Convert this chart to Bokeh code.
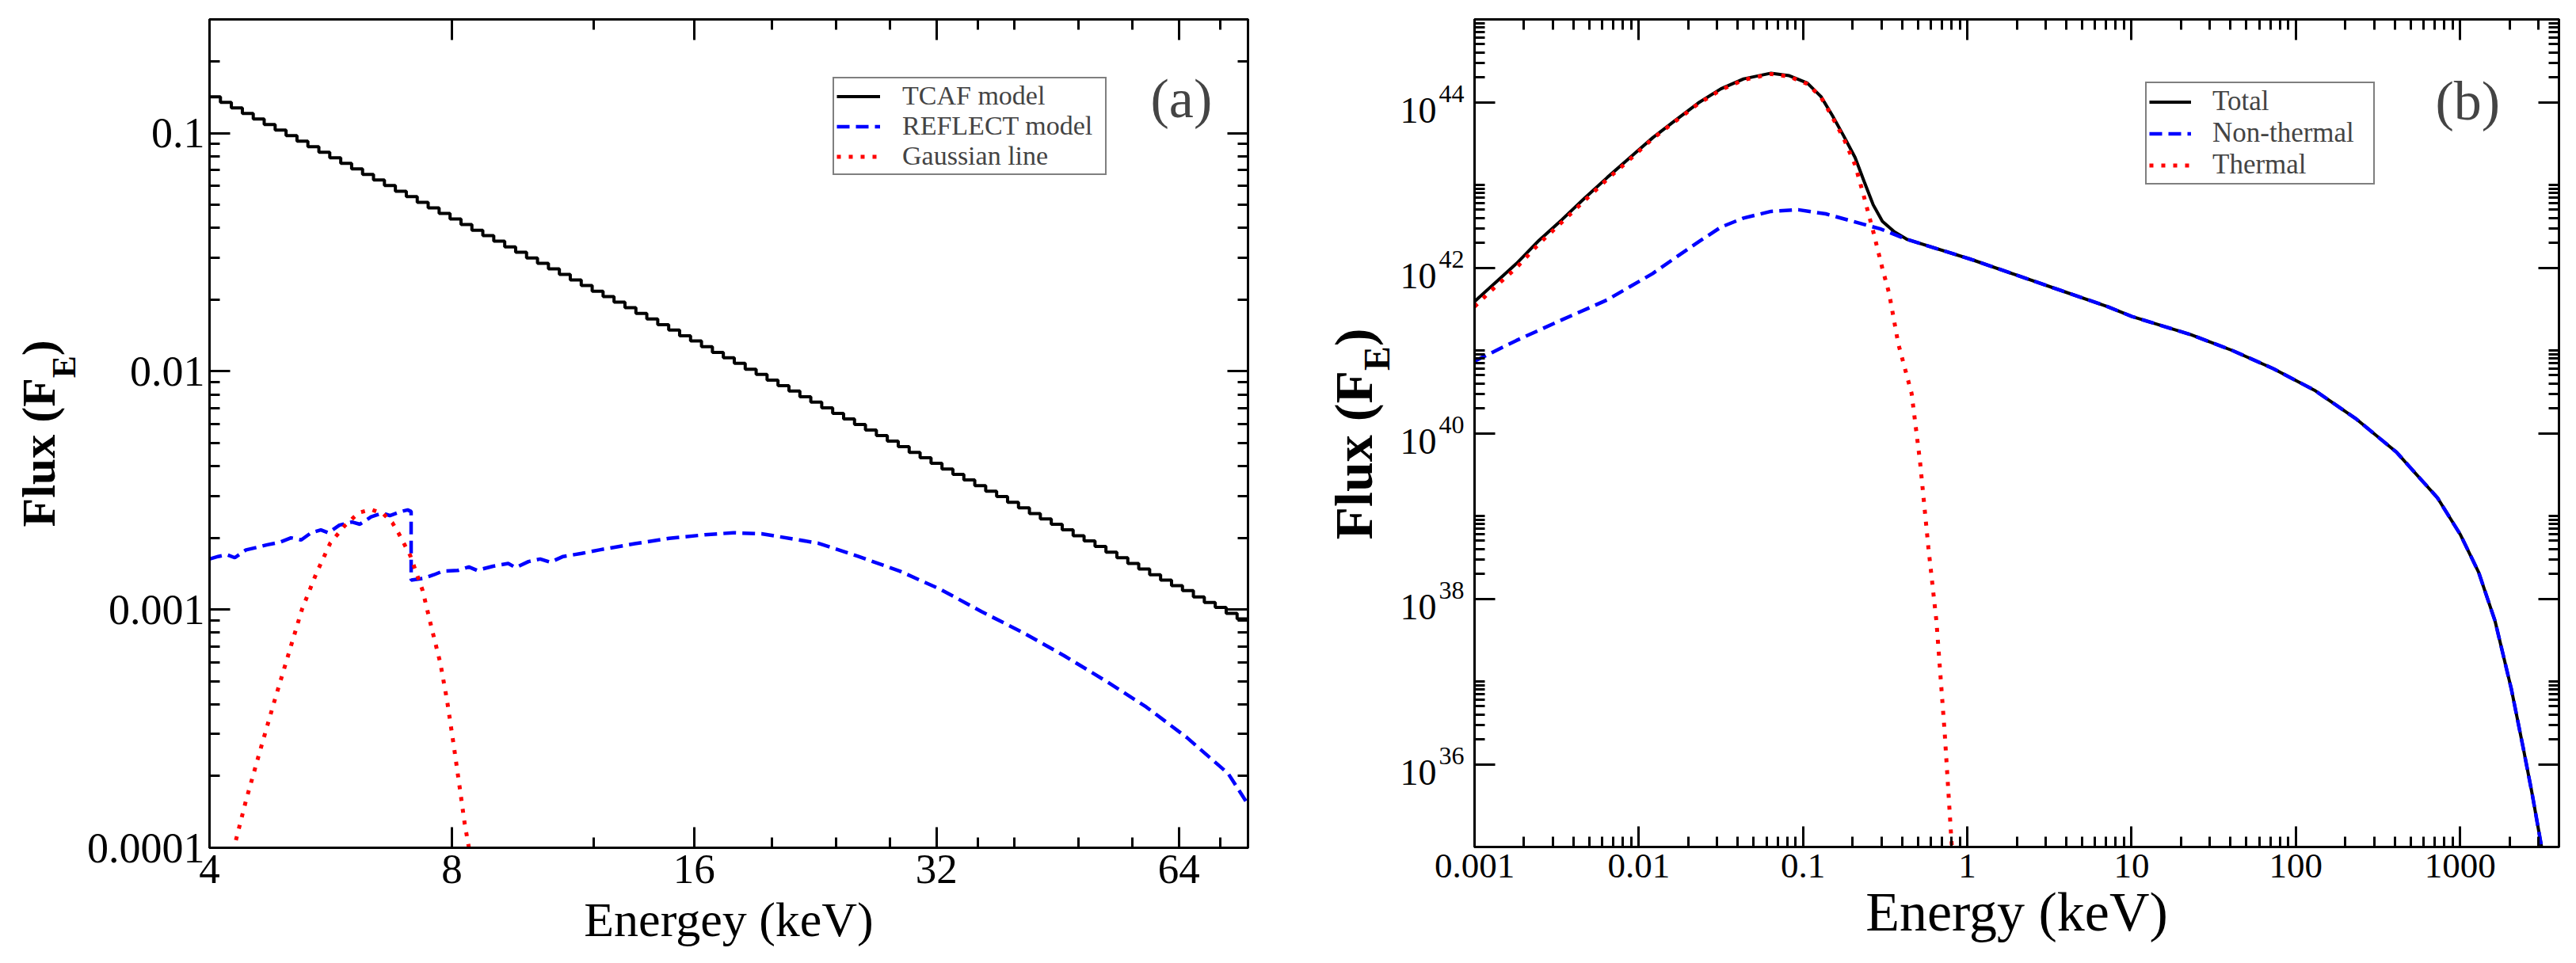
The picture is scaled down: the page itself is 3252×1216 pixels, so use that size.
import math

from bokeh.core.properties import value
from bokeh.embed import file_html
from bokeh.layouts import row
from bokeh.models import (CustomJSTickFormatter, FixedTicker, Label, Legend,
                          LegendItem, LogAxis)
from bokeh.plotting import figure
from bokeh.resources import INLINE

FONT = "Liberation Serif"

# ---------------- panel (a): TCAF + REFLECT + Gaussian ----------------
# channel edges (keV) of the binned TCAF spectrum and flux in each channel
tcaf_edges = [
    4.000, 4.127, 4.258, 4.394, 4.533, 4.677, 4.826, 4.979, 5.137, 5.300,
    5.469, 5.642, 5.822, 6.006, 6.197, 6.394, 6.597, 6.807, 7.023, 7.246,
    7.476, 7.714, 7.959, 8.212, 8.472, 8.741, 9.019, 9.306, 9.601, 9.906,
    10.221, 10.546, 10.881, 11.226, 11.583, 11.951, 12.330, 12.722, 13.126, 13.543,
    13.973, 14.417, 14.875, 15.347, 15.835, 16.338, 16.857, 17.392, 17.945, 18.515,
    19.103, 19.709, 20.335, 20.981, 21.648, 22.335, 23.045, 23.777, 24.532, 25.311,
    26.115, 26.944, 27.800, 28.683, 29.594, 30.534, 31.504, 32.505, 33.537, 34.602,
    35.701, 36.835, 38.005, 39.212, 40.457, 41.742, 43.068, 44.436, 45.847, 47.303,
    48.806, 50.356, 51.955, 53.605, 55.308, 57.064, 58.877, 60.747, 62.676, 64.667,
    66.721, 68.840, 71.026, 73.282, 75.610, 78.011,
]
tcaf_flux = [
    0.1420, 0.1346, 0.1275, 0.1209, 0.1146, 0.1086, 0.1029, 0.0975, 0.0924, 0.0876,
    0.0830, 0.0787, 0.0746, 0.0707, 0.0670, 0.0635, 0.0602, 0.0570, 0.0541, 0.0512,
    0.0485, 0.0460, 0.0436, 0.0413, 0.0391, 0.0371, 0.0352, 0.0333, 0.0316, 0.0299,
    0.0284, 0.0269, 0.0255, 0.0242, 0.0229, 0.0217, 0.0206, 0.0195, 0.0185, 0.0175,
    0.0166, 0.0157, 0.0149, 0.0141, 0.0134, 0.0127, 0.0120, 0.0114, 0.0108, 0.0102,
    0.00970, 0.00919, 0.00871, 0.00826, 0.00782, 0.00742, 0.00703, 0.00666, 0.00631, 0.00598,
    0.00567, 0.00537, 0.00509, 0.00483, 0.00457, 0.00434, 0.00411, 0.00389, 0.00369, 0.00350,
    0.00331, 0.00314, 0.00298, 0.00282, 0.00267, 0.00253, 0.00240, 0.00228, 0.00216, 0.00204,
    0.00194, 0.00184, 0.00174, 0.00165, 0.00156, 0.00148, 0.00140, 0.00133, 0.00126, 0.00120,
    0.00113, 0.00107, 0.00102, 0.000964, 0.000914,
]

reflect_energy = [
    4.00, 4.10, 4.20, 4.30, 4.44, 4.60, 4.72, 4.90, 5.05, 5.20,
    5.35, 5.50, 5.62, 5.80, 6.01, 6.15, 6.35, 6.55, 6.70, 6.92,
    7.05, 7.12, 7.121, 7.36, 7.60, 7.80, 8.14, 8.40, 8.60, 9.00,
    9.40, 9.60, 9.96, 10.3, 10.6, 11.0, 11.6, 12.2, 13.5, 14.9,
    16.5, 17.9, 19.4, 22.8, 25.6, 28.8, 32.3, 36.4, 41.0, 46.1,
    52.0, 58.3, 65.5, 73.7, 78.0,
]
reflect_flux = [
    0.00163, 0.00167, 0.00170, 0.00165, 0.00178, 0.00183, 0.00187, 0.00192, 0.00200, 0.00196,
    0.00210, 0.00216, 0.00210, 0.00226, 0.00233, 0.00228, 0.00245, 0.00254, 0.00248, 0.00258,
    0.00262, 0.00258, 0.00133, 0.00135, 0.00140, 0.00145, 0.00146, 0.00151, 0.00146, 0.00152,
    0.00156, 0.00150, 0.00159, 0.00163, 0.00158, 0.00167, 0.00172, 0.00178, 0.00189, 0.00199,
    0.00206, 0.00210, 0.00208, 0.00190, 0.00167, 0.00145, 0.00122, 0.00098, 0.00080, 0.00064,
    0.00050, 0.00039, 0.00029, 0.000205, 0.000152,
]

gauss_energy = [
    4.25, 4.29, 4.44, 4.62, 4.81, 5.01, 5.21, 5.43, 5.65, 5.89,
    6.13, 6.35, 6.58, 6.75, 6.87, 7.10, 7.36, 7.54, 7.74, 7.89,
    8.05, 8.18, 8.30, 8.40, 8.45,
]
gauss_flux = [
    8.6e-5, 1.0e-4, 1.58e-4, 2.54e-4, 4.07e-4, 6.44e-4, 1.0e-3, 1.42e-3, 1.90e-3, 2.25e-3,
    2.55e-3, 2.63e-3, 2.52e-3, 2.31e-3, 2.09e-3, 1.69e-3, 1.20e-3, 8.52e-4, 5.97e-4, 4.17e-4,
    2.64e-4, 1.80e-4, 1.26e-4, 1.0e-4, 8.6e-5,
]

a_xticks = [4, 8, 16, 32, 64]
a_xlabels = ["4", "8", "16", "32", "64"]
a_xminor = [12, 20, 24, 28, 36, 40, 48, 56, 72]
a_yticks = [1e-4, 1e-3, 1e-2, 1e-1]
a_ylabels = ["0.0001", "0.001", "0.01", "0.1"]

# ---------------- panel (b): Total / Non-thermal / Thermal ----------------
total_energy = [
    0.001, 0.001306, 0.001799, 0.002472, 0.003404, 0.004677, 0.006427, 0.008831, 0.01216, 0.01671,
    0.02301, 0.03162, 0.04345, 0.06383, 0.08241, 0.1062, 0.1285, 0.1507, 0.1770, 0.2075,
    0.2355, 0.2673, 0.3041, 0.3565, 0.4315, 1.054, 1.995, 3.767, 7.129, 10.05,
    23.0, 41.0, 72.9, 129.7, 230.7, 410.2, 727.8, 1007, 1297, 1633,
    2051, 2438, 2742, 3141,
]
total_flux = [
    3.89e41, 6.31e41, 1.12e42, 2.14e42, 3.80e42, 6.92e42, 1.23e43, 2.14e43, 3.72e43, 6.03e43,
    9.77e43, 1.45e44, 1.91e44, 2.24e44, 2.09e44, 1.70e44, 1.17e44, 6.92e43, 3.89e43, 2.14e43,
    1.10e43, 5.75e42, 3.63e42, 2.75e42, 2.19e42, 1.26e42, 8.13e41, 5.25e41, 3.39e41, 2.57e41,
    1.55e41, 1.00e41, 6.03e40, 3.31e40, 1.51e40, 5.89e39, 1.66e39, 5.89e38, 2.09e38, 5.37e37,
    8.13e36, 1.48e36, 4.47e35, 9.77e34,
]

nonthermal_energy = [
    0.001, 0.0018, 0.0034, 0.0064, 0.00883, 0.01216, 0.01671, 0.02301, 0.03162, 0.04345,
    0.06383, 0.09354, 0.1374, 0.2009, 0.2944, 0.4315, 1.054, 1.995, 3.767, 7.129,
    10.05, 23.0, 41.0, 72.9, 129.7, 230.7, 410.2, 727.8, 1007, 1297,
    1633, 2051, 2438, 2742, 3141,
]
nonthermal_flux = [
    7.41e40, 1.32e41, 2.34e41, 4.07e41, 5.89e41, 8.51e41, 1.32e42, 2.04e42, 3.09e42, 3.98e42,
    4.79e42, 5.01e42, 4.47e42, 3.63e42, 2.95e42, 2.19e42, 1.26e42, 8.13e41, 5.25e41, 3.39e41,
    2.57e41, 1.55e41, 1.00e41, 6.03e40, 3.31e40, 1.51e40, 5.89e39, 1.66e39, 5.89e38, 2.09e38,
    5.37e37, 8.13e36, 1.48e36, 4.47e35, 9.77e34,
]

thermal_energy = [
    0.001, 0.001306, 0.001799, 0.002472, 0.003404, 0.004677, 0.006427, 0.008831, 0.01216, 0.01671,
    0.02301, 0.03162, 0.04345, 0.06383, 0.08241, 0.1062, 0.1285, 0.1507, 0.1770, 0.2075,
    0.2355, 0.2673, 0.3041, 0.3342, 0.3802, 0.4581, 0.5152, 0.5794, 0.6486, 0.7278,
    0.7998, 0.82,
]
thermal_flux = [
    3.39e41, 5.62e41, 1.00e42, 1.95e42, 3.55e42, 6.46e42, 1.17e43, 2.04e43, 3.63e43, 5.89e43,
    9.55e43, 1.41e44, 1.86e44, 2.19e44, 2.04e44, 1.66e44, 1.15e44, 6.61e43, 3.63e43, 1.74e43,
    7.08e42, 2.75e42, 9.77e41, 4.90e41, 1.20e41, 3.02e40, 4.57e39, 4.17e38, 5.37e37, 2.45e36,
    1.23e35, 6.31e34,
]

b_xticks = [1e-3, 1e-2, 0.1, 1, 10, 100, 1000]
b_xlabels = ["0.001", "0.01", "0.1", "1", "10", "100", "1000"]
b_yticks = [1e36, 1e38, 1e40, 1e42, 1e44]
b_ybase = ["10", "10", "10", "10", "10"]
b_yexp = ["36", "38", "40", "42", "44"]


def decade_minors(first, last, step=1, mults=range(2, 10)):
    return [m * 10.0 ** e for e in range(first, last + 1, step) for m in mults]


def style_axis(ax, ticker, labels=None, size="54px", standoff=8):
    ax.ticker = ticker
    ax.axis_line_width = 3
    ax.axis_line_color = "black"
    ax.major_tick_in = 26
    ax.major_tick_out = 0
    ax.minor_tick_in = 13
    ax.minor_tick_out = 0
    ax.major_tick_line_width = 3
    ax.minor_tick_line_width = 3
    ax.major_label_text_font = FONT
    ax.major_label_text_color = "black"
    ax.major_label_standoff = standoff
    ax.axis_label = None
    if labels is None:
        # tick marks only: no labels on this side
        ax.formatter = CustomJSTickFormatter(code="return ''")
        ax.major_label_text_font_size = "1px"
        ax.major_label_standoff = 0
    else:
        ax.major_label_text_font_size = size
        ax.major_label_overrides = labels


def label_axis(positions, labels, size, standoff):
    # an axis without line or ticks, used only to print one row of labels
    ax = LogAxis(ticker=FixedTicker(ticks=positions, minor_ticks=[]))
    ax.axis_line_color = None
    ax.major_tick_line_color = None
    ax.minor_tick_line_color = None
    ax.major_tick_in = 0
    ax.major_tick_out = 0
    ax.minor_tick_in = 0
    ax.minor_tick_out = 0
    ax.major_label_text_font = FONT
    ax.major_label_text_color = "black"
    ax.major_label_text_font_size = size
    ax.major_label_standoff = standoff
    ax.major_label_overrides = dict(zip(positions, labels))
    return ax


def x_title(ax, text, size, standoff):
    ax.axis_label = text
    ax.axis_label_text_font = FONT
    ax.axis_label_text_font_style = "normal"
    ax.axis_label_text_font_size = size
    ax.axis_label_text_color = "black"
    ax.axis_label_standoff = standoff


def make_frame(xr, yr, fw, fh, left, right, top, bottom):
    p = figure(x_axis_type="log", y_axis_type="log", x_range=xr, y_range=yr,
               frame_width=fw, frame_height=fh, min_border_left=left,
               min_border_right=right, min_border_top=top, min_border_bottom=bottom,
               output_backend="svg", toolbar_location=None)
    p.xgrid.visible = False
    p.ygrid.visible = False
    p.outline_line_color = "black"
    p.outline_line_width = 3
    p.background_fill_color = "white"
    p.border_fill_color = "white"
    return p


def side_strip(width, y_range, fh, top, bottom):
    # narrow companion figure that carries the vertical title
    h = figure(x_range=(0, width), y_range=y_range, y_axis_type="log",
               frame_width=width, frame_height=fh, min_border_left=0, min_border_right=0,
               min_border_top=top, min_border_bottom=bottom,
               x_axis_location=None, y_axis_location=None,
               output_backend="svg", toolbar_location=None)
    h.outline_line_color = None
    h.border_fill_color = "white"
    h.background_fill_color = "white"
    for g in h.grid:
        g.visible = False
    return h


def y_title(h, y0, base_x, rise, main_size, sub_size, sub_drop):
    # "Flux (F" + subscript "E" + ")" written bottom-to-top
    main_w = 3.139 * main_size
    sub_w = 0.667 * sub_size
    pieces = [("Flux (F", base_x, rise, main_size),
              ("E", base_x + sub_drop, rise + main_w, sub_size),
              (")", base_x, rise + main_w + sub_w, main_size)]
    for txt, x, up, size in pieces:
        h.text(x=[x], y=[y0], text=[txt], y_offset=-up, angle=math.pi / 2,
               text_align="left", text_baseline="alphabetic",
               text_font=value(FONT), text_font_style="bold",
               text_font_size=value(f"{size}px"), text_color="black")


def legend(p, items, loc, size, gw, gh, lw, standoff):
    leg = Legend(items=items, location=loc, label_text_font=FONT,
                 label_text_font_size=size, glyph_width=gw, glyph_height=gh,
                 label_height=gh, label_width=lw, label_standoff=standoff,
                 padding=3, spacing=0, margin=0, border_line_color="black",
                 border_line_width=2, background_fill_color="white",
                 background_fill_alpha=1.0)
    p.add_layout(leg)


# ---------------- build panel (a) ----------------
FW_A, FH_A = 1311, 1046
A_RANGE_Y = (1e-4, 0.3)
pa = make_frame((4, 78), A_RANGE_Y, FW_A, FH_A, 155, 80, 23, 131)

a_xt = FixedTicker(ticks=a_xticks, minor_ticks=a_xminor)
a_yt = FixedTicker(ticks=a_yticks, minor_ticks=decade_minors(-4, -1))
style_axis(pa.xaxis[0], a_xt, dict(zip(a_xticks, a_xlabels)), "53px", 9)
style_axis(pa.yaxis[0], a_yt, dict(zip(a_yticks, a_ylabels)), "54px", 6)
x_title(pa.xaxis[0], "Energey (keV)", "62px", 9)
ax_top = LogAxis()
style_axis(ax_top, FixedTicker(ticks=a_xticks, minor_ticks=a_xminor))
pa.add_layout(ax_top, "above")
ax_right = LogAxis()
style_axis(ax_right, FixedTicker(ticks=a_yticks, minor_ticks=decade_minors(-4, -1)))
pa.add_layout(ax_right, "right")

r_tcaf = pa.step(x=tcaf_edges, y=tcaf_flux + [tcaf_flux[-1]], mode="after",
                 line_color="black", line_width=4)
r_refl = pa.line(reflect_energy, reflect_flux, line_color="blue", line_width=4.5,
                 line_dash="16 8")
r_gaus = pa.line(gauss_energy, gauss_flux, line_color="red", line_width=5,
                 line_dash="5 10")

legend(pa, [LegendItem(label="TCAF model", renderers=[r_tcaf]),
            LegendItem(label="REFLECT model", renderers=[r_refl]),
            LegendItem(label="Gaussian line", renderers=[r_gaus])],
       (787, 849), "34px", 55, 37, 253, 28)

pa.add_layout(Label(x=1188, y=946, x_units="screen", y_units="screen", text="(a)",
                    text_font=FONT, text_font_size="70px", text_align="left",
                    text_baseline="alphabetic"))

ha = side_strip(106, pa.y_range, FH_A, 23, 131)
y_title(ha, A_RANGE_Y[0], 48, 405, 60, 42, 32)

# ---------------- build panel (b) ----------------
FW_B, FH_B = 1369, 1045
B_RANGE_Y = (1e35, 1e45)
pb = make_frame((0.001, 4000), B_RANGE_Y, FW_B, FH_B, 93, 13, 24, 131)

b_xminor = decade_minors(-3, 3)
b_yminor = decade_minors(34, 44, step=2, mults=range(2, 11))
style_axis(pb.xaxis[0], FixedTicker(ticks=b_xticks, minor_ticks=b_xminor),
           dict(zip(b_xticks, b_xlabels)), "45px", 9)
x_title(pb.xaxis[0], "Energy (keV)", "70px", 2)
style_axis(pb.yaxis[0], FixedTicker(ticks=b_yticks, minor_ticks=b_yminor))
bx_top = LogAxis()
style_axis(bx_top, FixedTicker(ticks=b_xticks, minor_ticks=b_xminor))
pb.add_layout(bx_top, "above")
by_right = LogAxis()
style_axis(by_right, FixedTicker(ticks=b_yticks, minor_ticks=b_yminor))
pb.add_layout(by_right, "right")

# y tick labels of panel (b): "10" with a raised exponent, printed by two label rows
RAISE = 0.098  # decades, about 10 px on this frame
exp_pos = [10 ** (math.log10(t) + RAISE) for t in b_yticks]
base_pos = [10 ** (math.log10(t) - RAISE) for t in b_yticks]
pb.add_layout(label_axis(exp_pos, b_yexp, "32px", 13), "left")
pb.add_layout(label_axis(base_pos, b_ybase, "46px", 0), "left")

r_tot = pb.line(total_energy, total_flux, line_color="black", line_width=4)
r_non = pb.line(nonthermal_energy, nonthermal_flux, line_color="blue", line_width=4.5,
                line_dash="16 8")
r_th = pb.line(thermal_energy, thermal_flux, line_color="red", line_width=5,
               line_dash="5 10")

legend(pb, [LegendItem(label="Total", renderers=[r_tot]),
            LegendItem(label="Non-thermal", renderers=[r_non]),
            LegendItem(label="Thermal", renderers=[r_th])],
       (847, 836), "35px", 53, 39, 200, 27)

pb.add_layout(Label(x=1213, y=942, x_units="screen", y_units="screen", text="(b)",
                    text_font=FONT, text_font_size="70px", text_align="left",
                    text_baseline="alphabetic"))

hb = side_strip(109, pb.y_range, FH_B, 24, 131)
y_title(hb, B_RANGE_Y[0], 53, 388, 68, 46, 30)

layout = row(ha, pa, hb, pb)
open("out.html", "w").write(file_html(layout, INLINE))
